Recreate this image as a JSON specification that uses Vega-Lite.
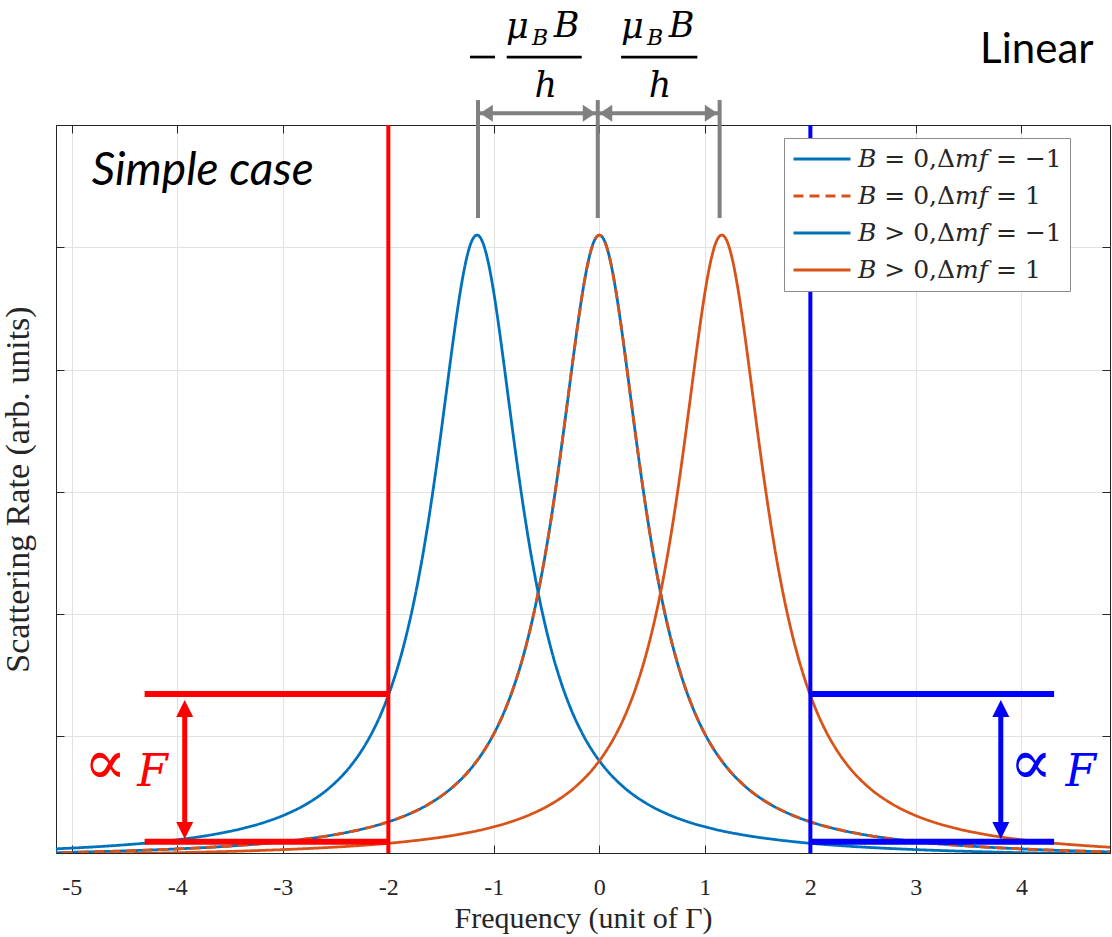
{
  "$schema": "https://vega.github.io/schema/vega-lite/v6.json",
  "width": 1054,
  "height": 728,
  "autosize": {"type": "none"},
  "padding": {"left": 56, "top": 125, "right": 2, "bottom": 84},
  "background": "white",
  "config": {
    "view": {"stroke": "#262626", "strokeWidth": 1},
    "axis": {"domainColor": "#262626", "tickColor": "#262626", "gridColor": "#e2e2e2", "domainWidth": 1, "tickWidth": 1, "gridWidth": 1}
  },
  "resolve": {"axis": {"x": "independent", "y": "independent"}},
  "datasets": {
    "curves": [
      {"s":"a","x":-6,"y":0.0352},{"s":"a","x":-5.5,"y":0.0418},{"s":"a","x":-5,"y":0.0505},{"s":"a","x":-4.5,"y":0.0622},{"s":"a","x":-4,"y":0.0785},{"s":"a","x":-3.5,"y":0.102},{"s":"a","x":-3,"y":0.1378},{"s":"a","x":-2.5,"y":0.1962},{"s":"a","x":-2.25,"y":0.24},{"s":"a","x":-2,"y":0.3},{"s":"a","x":-1.8,"y":0.3653},{"s":"a","x":-1.6,"y":0.4537},{"s":"a","x":-1.4,"y":0.5769},{"s":"a","x":-1.2,"y":0.7544},{"s":"a","x":-1.1,"y":0.8733},{"s":"a","x":-1,"y":1.02},{"s":"a","x":-0.9,"y":1.2028},{"s":"a","x":-0.8,"y":1.4326},{"s":"a","x":-0.7,"y":1.723},{"s":"a","x":-0.6,"y":2.0902},{"s":"a","x":-0.5,"y":2.55},{"s":"a","x":-0.45,"y":2.8177},{"s":"a","x":-0.4,"y":3.1098},{"s":"a","x":-0.35,"y":3.4228},{"s":"a","x":-0.3,"y":3.75},{"s":"a","x":-0.25,"y":4.08},{"s":"a","x":-0.2,"y":4.3966},{"s":"a","x":-0.15,"y":4.6789},{"s":"a","x":-0.1,"y":4.9038},{"s":"a","x":-0.05,"y":5.0495},{"s":"a","x":0,"y":5.1},{"s":"a","x":0.05,"y":5.0495},{"s":"a","x":0.1,"y":4.9038},{"s":"a","x":0.15,"y":4.6789},{"s":"a","x":0.2,"y":4.3966},{"s":"a","x":0.25,"y":4.08},{"s":"a","x":0.3,"y":3.75},{"s":"a","x":0.35,"y":3.4228},{"s":"a","x":0.4,"y":3.1098},{"s":"a","x":0.45,"y":2.8177},{"s":"a","x":0.5,"y":2.55},{"s":"a","x":0.6,"y":2.0902},{"s":"a","x":0.7,"y":1.723},{"s":"a","x":0.8,"y":1.4326},{"s":"a","x":0.9,"y":1.2028},{"s":"a","x":1,"y":1.02},{"s":"a","x":1.1,"y":0.8733},{"s":"a","x":1.2,"y":0.7544},{"s":"a","x":1.4,"y":0.5769},{"s":"a","x":1.6,"y":0.4537},{"s":"a","x":1.8,"y":0.3653},{"s":"a","x":2,"y":0.3},{"s":"a","x":2.25,"y":0.24},{"s":"a","x":2.5,"y":0.1962},{"s":"a","x":3,"y":0.1378},{"s":"a","x":3.5,"y":0.102},{"s":"a","x":4,"y":0.0785},{"s":"a","x":4.5,"y":0.0622},{"s":"a","x":5,"y":0.0505},
      {"s":"c","x":-5.66,"y":0.0622},{"s":"c","x":-5.16,"y":0.0785},{"s":"c","x":-4.66,"y":0.102},{"s":"c","x":-4.16,"y":0.1378},{"s":"c","x":-3.66,"y":0.1962},{"s":"c","x":-3.41,"y":0.24},{"s":"c","x":-3.16,"y":0.3},{"s":"c","x":-2.96,"y":0.3653},{"s":"c","x":-2.76,"y":0.4537},{"s":"c","x":-2.56,"y":0.5769},{"s":"c","x":-2.36,"y":0.7544},{"s":"c","x":-2.26,"y":0.8733},{"s":"c","x":-2.16,"y":1.02},{"s":"c","x":-2.06,"y":1.2028},{"s":"c","x":-1.96,"y":1.4326},{"s":"c","x":-1.86,"y":1.723},{"s":"c","x":-1.76,"y":2.0902},{"s":"c","x":-1.66,"y":2.55},{"s":"c","x":-1.61,"y":2.8177},{"s":"c","x":-1.56,"y":3.1098},{"s":"c","x":-1.51,"y":3.4228},{"s":"c","x":-1.46,"y":3.75},{"s":"c","x":-1.41,"y":4.08},{"s":"c","x":-1.36,"y":4.3966},{"s":"c","x":-1.31,"y":4.6789},{"s":"c","x":-1.26,"y":4.9038},{"s":"c","x":-1.21,"y":5.0495},{"s":"c","x":-1.16,"y":5.1},{"s":"c","x":-1.11,"y":5.0495},{"s":"c","x":-1.06,"y":4.9038},{"s":"c","x":-1.01,"y":4.6789},{"s":"c","x":-0.96,"y":4.3966},{"s":"c","x":-0.91,"y":4.08},{"s":"c","x":-0.86,"y":3.75},{"s":"c","x":-0.81,"y":3.4228},{"s":"c","x":-0.76,"y":3.1098},{"s":"c","x":-0.71,"y":2.8177},{"s":"c","x":-0.66,"y":2.55},{"s":"c","x":-0.56,"y":2.0902},{"s":"c","x":-0.46,"y":1.723},{"s":"c","x":-0.36,"y":1.4326},{"s":"c","x":-0.26,"y":1.2028},{"s":"c","x":-0.16,"y":1.02},{"s":"c","x":-0.06,"y":0.8733},{"s":"c","x":0.04,"y":0.7544},{"s":"c","x":0.24,"y":0.5769},{"s":"c","x":0.44,"y":0.4537},{"s":"c","x":0.64,"y":0.3653},{"s":"c","x":0.84,"y":0.3},{"s":"c","x":1.09,"y":0.24},{"s":"c","x":1.34,"y":0.1962},{"s":"c","x":1.84,"y":0.1378},{"s":"c","x":2.34,"y":0.102},{"s":"c","x":2.84,"y":0.0785},{"s":"c","x":3.34,"y":0.0622},{"s":"c","x":3.84,"y":0.0505},{"s":"c","x":4.34,"y":0.0418},{"s":"c","x":4.84,"y":0.0352},{"s":"c","x":5.34,"y":0.03},
      {"s":"d","x":-5.34,"y":0.03},{"s":"d","x":-4.84,"y":0.0352},{"s":"d","x":-4.34,"y":0.0418},{"s":"d","x":-3.84,"y":0.0505},{"s":"d","x":-3.34,"y":0.0622},{"s":"d","x":-2.84,"y":0.0785},{"s":"d","x":-2.34,"y":0.102},{"s":"d","x":-1.84,"y":0.1378},{"s":"d","x":-1.34,"y":0.1962},{"s":"d","x":-1.09,"y":0.24},{"s":"d","x":-0.84,"y":0.3},{"s":"d","x":-0.64,"y":0.3653},{"s":"d","x":-0.44,"y":0.4537},{"s":"d","x":-0.24,"y":0.5769},{"s":"d","x":-0.04,"y":0.7544},{"s":"d","x":0.06,"y":0.8733},{"s":"d","x":0.16,"y":1.02},{"s":"d","x":0.26,"y":1.2028},{"s":"d","x":0.36,"y":1.4326},{"s":"d","x":0.46,"y":1.723},{"s":"d","x":0.56,"y":2.0902},{"s":"d","x":0.66,"y":2.55},{"s":"d","x":0.71,"y":2.8177},{"s":"d","x":0.76,"y":3.1098},{"s":"d","x":0.81,"y":3.4228},{"s":"d","x":0.86,"y":3.75},{"s":"d","x":0.91,"y":4.08},{"s":"d","x":0.96,"y":4.3966},{"s":"d","x":1.01,"y":4.6789},{"s":"d","x":1.06,"y":4.9038},{"s":"d","x":1.11,"y":5.0495},{"s":"d","x":1.16,"y":5.1},{"s":"d","x":1.21,"y":5.0495},{"s":"d","x":1.26,"y":4.9038},{"s":"d","x":1.31,"y":4.6789},{"s":"d","x":1.36,"y":4.3966},{"s":"d","x":1.41,"y":4.08},{"s":"d","x":1.46,"y":3.75},{"s":"d","x":1.51,"y":3.4228},{"s":"d","x":1.56,"y":3.1098},{"s":"d","x":1.61,"y":2.8177},{"s":"d","x":1.66,"y":2.55},{"s":"d","x":1.76,"y":2.0902},{"s":"d","x":1.86,"y":1.723},{"s":"d","x":1.96,"y":1.4326},{"s":"d","x":2.06,"y":1.2028},{"s":"d","x":2.16,"y":1.02},{"s":"d","x":2.26,"y":0.8733},{"s":"d","x":2.36,"y":0.7544},{"s":"d","x":2.56,"y":0.5769},{"s":"d","x":2.76,"y":0.4537},{"s":"d","x":2.96,"y":0.3653},{"s":"d","x":3.16,"y":0.3},{"s":"d","x":3.41,"y":0.24},{"s":"d","x":3.66,"y":0.1962},{"s":"d","x":4.16,"y":0.1378},{"s":"d","x":4.66,"y":0.102},{"s":"d","x":5.16,"y":0.0785},
      {"s":"b","x":-6,"y":0.0352},{"s":"b","x":-5.5,"y":0.0418},{"s":"b","x":-5,"y":0.0505},{"s":"b","x":-4.5,"y":0.0622},{"s":"b","x":-4,"y":0.0785},{"s":"b","x":-3.5,"y":0.102},{"s":"b","x":-3,"y":0.1378},{"s":"b","x":-2.5,"y":0.1962},{"s":"b","x":-2.25,"y":0.24},{"s":"b","x":-2,"y":0.3},{"s":"b","x":-1.8,"y":0.3653},{"s":"b","x":-1.6,"y":0.4537},{"s":"b","x":-1.4,"y":0.5769},{"s":"b","x":-1.2,"y":0.7544},{"s":"b","x":-1.1,"y":0.8733},{"s":"b","x":-1,"y":1.02},{"s":"b","x":-0.9,"y":1.2028},{"s":"b","x":-0.8,"y":1.4326},{"s":"b","x":-0.7,"y":1.723},{"s":"b","x":-0.6,"y":2.0902},{"s":"b","x":-0.5,"y":2.55},{"s":"b","x":-0.45,"y":2.8177},{"s":"b","x":-0.4,"y":3.1098},{"s":"b","x":-0.35,"y":3.4228},{"s":"b","x":-0.3,"y":3.75},{"s":"b","x":-0.25,"y":4.08},{"s":"b","x":-0.2,"y":4.3966},{"s":"b","x":-0.15,"y":4.6789},{"s":"b","x":-0.1,"y":4.9038},{"s":"b","x":-0.05,"y":5.0495},{"s":"b","x":0,"y":5.1},{"s":"b","x":0.05,"y":5.0495},{"s":"b","x":0.1,"y":4.9038},{"s":"b","x":0.15,"y":4.6789},{"s":"b","x":0.2,"y":4.3966},{"s":"b","x":0.25,"y":4.08},{"s":"b","x":0.3,"y":3.75},{"s":"b","x":0.35,"y":3.4228},{"s":"b","x":0.4,"y":3.1098},{"s":"b","x":0.45,"y":2.8177},{"s":"b","x":0.5,"y":2.55},{"s":"b","x":0.6,"y":2.0902},{"s":"b","x":0.7,"y":1.723},{"s":"b","x":0.8,"y":1.4326},{"s":"b","x":0.9,"y":1.2028},{"s":"b","x":1,"y":1.02},{"s":"b","x":1.1,"y":0.8733},{"s":"b","x":1.2,"y":0.7544},{"s":"b","x":1.4,"y":0.5769},{"s":"b","x":1.6,"y":0.4537},{"s":"b","x":1.8,"y":0.3653},{"s":"b","x":2,"y":0.3},{"s":"b","x":2.25,"y":0.24},{"s":"b","x":2.5,"y":0.1962},{"s":"b","x":3,"y":0.1378},{"s":"b","x":3.5,"y":0.102},{"s":"b","x":4,"y":0.0785},{"s":"b","x":4.5,"y":0.0622},{"s":"b","x":5,"y":0.0505}
    ]
  },
  "layer": [
    {
      "data": {"name": "curves"},
      "transform": [{"filter": "datum.s != 'b'"}],
      "mark": {"type": "line", "strokeWidth": 2.8, "clip": true, "interpolate": "monotone"},
      "encoding": {
        "x": {"field": "x", "type": "quantitative", "scale": {"domain": [-5.15, 4.84], "nice": false, "zero": false},
          "axis": {"orient": "bottom", "values": [-5,-4,-3,-2,-1,0,1,2,3,4], "grid": true, "tickSize": -8, "labelPadding": 30, "labelFont": "Liberation Sans Narrow", "labelFontSize": 24, "labelColor": "#262626", "labelExpr": "'' + datum.value", "labelFlush": false, "title": "Frequency (unit of Γ)", "titleFont": "Liberation Serif", "titleFontSize": 30, "titleFontWeight": "normal", "titleColor": "#262626", "titlePadding": 4}},
        "y": {"field": "y", "type": "quantitative", "scale": {"domain": [0.045, 6.0], "nice": false, "zero": false},
          "axis": {"orient": "left", "values": [1,2,3,4,5,6], "grid": true, "labels": false, "tickSize": -8, "title": "Scattering Rate (arb. units)", "titleFont": "Liberation Serif", "titleFontSize": 34, "titleFontWeight": "normal", "titleColor": "#262626", "titlePadding": 20}},
        "color": {"field": "s", "type": "nominal", "scale": {"domain": ["a","b","c","d"], "range": ["#0072BD","#D95319","#0072BD","#D95319"]},
          "legend": {"orient": "none", "legendX": 728, "legendY": 13, "title": null, "direction": "vertical", "symbolType": "stroke", "symbolSize": 3249, "symbolStrokeWidth": 3, "clipHeight": 26, "rowPadding": 11, "padding": 8, "labelFont": "DejaVu Serif", "labelFontSize": 25, "labelColor": "#262626", "labelOffset": 6, "labelLimit": 400, "strokeColor": "#8c8c8c", "fillColor": "white",
            "labelExpr": "datum.label == 'a' ? '𝐵 = 0,Δ𝑚𝑓 = −1' : datum.label == 'b' ? '𝐵 = 0,Δ𝑚𝑓 = 1' : datum.label == 'c' ? '𝐵 > 0,Δ𝑚𝑓 = −1' : '𝐵 > 0,Δ𝑚𝑓 = 1'"}},
        "strokeDash": {"field": "s", "type": "nominal", "scale": {"domain": ["a","b","c","d"], "range": [[1,0],[10,6],[1,0],[1,0]]},
          "legend": {"orient": "none", "legendX": 728, "legendY": 13, "title": null, "direction": "vertical", "symbolType": "stroke", "symbolSize": 3249, "symbolStrokeWidth": 3, "clipHeight": 26, "rowPadding": 11, "padding": 8, "labelFont": "DejaVu Serif", "labelFontSize": 25, "labelColor": "#262626", "labelOffset": 6, "labelLimit": 400, "strokeColor": "#8c8c8c", "fillColor": "white",
            "labelExpr": "datum.label == 'a' ? '𝐵 = 0,Δ𝑚𝑓 = −1' : datum.label == 'b' ? '𝐵 = 0,Δ𝑚𝑓 = 1' : datum.label == 'c' ? '𝐵 > 0,Δ𝑚𝑓 = −1' : '𝐵 > 0,Δ𝑚𝑓 = 1'"}}
      }
    },
    {
      "data": {"name": "curves"},
      "transform": [{"filter": "datum.s == 'b'"}],
      "mark": {"type": "line", "strokeWidth": 2.8, "clip": true, "interpolate": "monotone"},
      "encoding": {
        "x": {"field": "x", "type": "quantitative", "axis": null},
        "y": {"field": "y", "type": "quantitative", "axis": null},
        "color": {"field": "s", "type": "nominal"},
        "strokeDash": {"field": "s", "type": "nominal"}
      }
    },
    {
      "data": {"values": [{"x": -2}]},
      "mark": {"type": "rule", "color": "#ff0000", "strokeWidth": 4},
      "encoding": {"x": {"field": "x", "type": "quantitative", "axis": null}}
    },
    {
      "data": {"values": [{"x": 2}]},
      "mark": {"type": "rule", "color": "#0000ff", "strokeWidth": 4},
      "encoding": {"x": {"field": "x", "type": "quantitative", "axis": null}}
    },
    {
      "data": {"values": [{"x": -4.31, "x2": -2.0, "y": 1.346}, {"x": -4.31, "x2": -2.0, "y": 0.137}]},
      "mark": {"type": "rule", "color": "#ff0000", "strokeWidth": 6},
      "encoding": {
        "x": {"field": "x", "type": "quantitative", "axis": {"orient": "top", "values": [-5,-4,-3,-2,-1,0,1,2,3,4], "labels": false, "title": null, "grid": false, "tickSize": -8}},
        "x2": {"field": "x2"},
        "y": {"field": "y", "type": "quantitative", "axis": {"orient": "right", "values": [1,2,3,4,5,6], "labels": false, "title": null, "grid": false, "tickSize": -8}}
      }
    },
    {
      "data": {"values": [{"x": 2.0, "x2": 4.31, "y": 1.346}, {"x": 2.0, "x2": 4.31, "y": 0.137}]},
      "mark": {"type": "rule", "color": "#0000ff", "strokeWidth": 6},
      "encoding": {
        "x": {"field": "x", "type": "quantitative", "axis": null},
        "x2": {"field": "x2"},
        "y": {"field": "y", "type": "quantitative", "axis": null}
      }
    },
    {
      "data": {"values": [{"x": -3.93, "y": 1.227, "y2": 0.229}]},
      "mark": {"type": "rule", "color": "#ff0000", "strokeWidth": 5},
      "encoding": {
        "x": {"field": "x", "type": "quantitative", "axis": null},
        "y": {"field": "y", "type": "quantitative", "axis": null},
        "y2": {"field": "y2"}
      }
    },
    {
      "data": {"values": [{"x": 3.805, "y": 1.227, "y2": 0.229}]},
      "mark": {"type": "rule", "color": "#0000ff", "strokeWidth": 5},
      "encoding": {
        "x": {"field": "x", "type": "quantitative", "axis": null},
        "y": {"field": "y", "type": "quantitative", "axis": null},
        "y2": {"field": "y2"}
      }
    },
    {
      "data": {"values": [{"x": -3.93, "y": 1.227, "end": "top"}, {"x": -3.93, "y": 0.229, "end": "bottom"}]},
      "mark": {"type": "point", "filled": true, "size": 289, "color": "#ff0000", "opacity": 1, "strokeWidth": 0},
      "encoding": {
        "x": {"field": "x", "type": "quantitative", "axis": null},
        "y": {"field": "y", "type": "quantitative", "axis": null},
        "shape": {"field": "end", "type": "nominal", "scale": {"domain": ["top","bottom","left","right"], "range": ["M0,-1L1,1L-1,1Z","M0,1L1,-1L-1,-1Z","M-1,0L0.5,-1L0.5,1Z","M1,0L-0.5,-1L-0.5,1Z"]}, "legend": null}
      }
    },
    {
      "data": {"values": [{"x": 3.805, "y": 1.227, "end": "top"}, {"x": 3.805, "y": 0.229, "end": "bottom"}]},
      "mark": {"type": "point", "filled": true, "size": 289, "color": "#0000ff", "opacity": 1, "strokeWidth": 0},
      "encoding": {
        "x": {"field": "x", "type": "quantitative", "axis": null},
        "y": {"field": "y", "type": "quantitative", "axis": null},
        "shape": {"field": "end", "type": "nominal", "legend": null}
      }
    },
    {
      "data": {"values": [{"x": -1.15, "y": 6.204, "y2": 5.239}, {"x": -0.015, "y": 6.204, "y2": 5.239}, {"x": 1.14, "y": 6.204, "y2": 5.239}]},
      "mark": {"type": "rule", "color": "#808080", "strokeWidth": 4},
      "encoding": {
        "x": {"field": "x", "type": "quantitative", "axis": null},
        "y": {"field": "y", "type": "quantitative", "axis": null},
        "y2": {"field": "y2"}
      }
    },
    {
      "data": {"values": [{"x": -1.15, "x2": -0.015, "y": 6.096}, {"x": -0.015, "x2": 1.14, "y": 6.096}]},
      "mark": {"type": "rule", "color": "#808080", "strokeWidth": 4},
      "encoding": {
        "x": {"field": "x", "type": "quantitative", "axis": null},
        "x2": {"field": "x2"},
        "y": {"field": "y", "type": "quantitative", "axis": null}
      }
    },
    {
      "data": {"values": [{"x": -1.05, "y": 6.096, "end": "left"}, {"x": -0.117, "y": 6.096, "end": "right"}, {"x": 0.082, "y": 6.096, "end": "left"}, {"x": 1.04, "y": 6.096, "end": "right"}]},
      "mark": {"type": "point", "filled": true, "size": 289, "color": "#808080", "opacity": 1, "strokeWidth": 0},
      "encoding": {
        "x": {"field": "x", "type": "quantitative", "axis": null},
        "y": {"field": "y", "type": "quantitative", "axis": null},
        "shape": {"field": "end", "type": "nominal", "legend": null}
      }
    },
    {
      "data": {"values": [{"x": -1.226, "x2": -0.989, "y": 6.556}, {"x": -0.878, "x2": -0.167, "y": 6.556}, {"x": 0.206, "x2": 0.929, "y": 6.556}]},
      "mark": {"type": "rule", "color": "#000000", "strokeWidth": 2.7},
      "encoding": {
        "x": {"field": "x", "type": "quantitative", "axis": null},
        "x2": {"field": "x2"},
        "y": {"field": "y", "type": "quantitative", "axis": null}
      }
    },
    {
      "data": {"values": [{"t": "μ", "x": -0.776, "y": 6.709}, {"t": "B", "x": -0.311, "y": 6.717}, {"t": "h", "x": -0.507, "y": 6.231}, {"t": "μ", "x": 0.313, "y": 6.709}, {"t": "B", "x": 0.779, "y": 6.717}, {"t": "h", "x": 0.575, "y": 6.231}]},
      "mark": {"type": "text", "font": "DejaVu Serif", "fontStyle": "italic", "fontSize": 35, "color": "#000000", "align": "center", "baseline": "alphabetic"},
      "encoding": {
        "x": {"field": "x", "type": "quantitative", "axis": null},
        "y": {"field": "y", "type": "quantitative", "axis": null},
        "text": {"field": "t"}
      }
    },
    {
      "data": {"values": [{"t": "B", "x": -0.562, "y": 6.654}, {"t": "B", "x": 0.528, "y": 6.654}]},
      "mark": {"type": "text", "font": "DejaVu Serif", "fontStyle": "italic", "fontSize": 22, "color": "#000000", "align": "center", "baseline": "alphabetic"},
      "encoding": {
        "x": {"field": "x", "type": "quantitative", "axis": null},
        "y": {"field": "y", "type": "quantitative", "axis": null},
        "text": {"field": "t"}
      }
    },
    {
      "data": {"values": [{"t": "Simple case", "x": -4.81, "y": 5.509}]},
      "mark": {"type": "text", "font": "Lato", "fontStyle": "italic", "fontSize": 46, "color": "#000000", "align": "left", "baseline": "alphabetic"},
      "encoding": {
        "x": {"field": "x", "type": "quantitative", "axis": null},
        "y": {"field": "y", "type": "quantitative", "axis": null},
        "text": {"field": "t"}
      }
    },
    {
      "data": {"values": [{"t": "Linear", "x": 3.609, "y": 6.507}]},
      "mark": {"type": "text", "font": "Lato", "fontSize": 42, "color": "#000000", "align": "left", "baseline": "alphabetic"},
      "encoding": {
        "x": {"field": "x", "type": "quantitative", "axis": null},
        "y": {"field": "y", "type": "quantitative", "axis": null},
        "text": {"field": "t"}
      }
    },
    {
      "data": {"values": [{"t": "∝", "x": -4.685, "y": 0.61}]},
      "mark": {"type": "text", "font": "DejaVu Serif", "fontSize": 64, "color": "#ff0000", "align": "center", "baseline": "alphabetic"},
      "encoding": {
        "x": {"field": "x", "type": "quantitative", "axis": null},
        "y": {"field": "y", "type": "quantitative", "axis": null},
        "text": {"field": "t"}
      }
    },
    {
      "data": {"values": [{"t": "F", "x": -4.235, "y": 0.597}]},
      "mark": {"type": "text", "font": "DejaVu Serif", "fontStyle": "italic", "fontSize": 44, "color": "#ff0000", "align": "center", "baseline": "alphabetic"},
      "encoding": {
        "x": {"field": "x", "type": "quantitative", "axis": null},
        "y": {"field": "y", "type": "quantitative", "axis": null},
        "text": {"field": "t"}
      }
    },
    {
      "data": {"values": [{"t": "∝", "x": 4.09, "y": 0.61}]},
      "mark": {"type": "text", "font": "DejaVu Serif", "fontSize": 64, "color": "#0000ff", "align": "center", "baseline": "alphabetic"},
      "encoding": {
        "x": {"field": "x", "type": "quantitative", "axis": null},
        "y": {"field": "y", "type": "quantitative", "axis": null},
        "text": {"field": "t"}
      }
    },
    {
      "data": {"values": [{"t": "F", "x": 4.564, "y": 0.597}]},
      "mark": {"type": "text", "font": "DejaVu Serif", "fontStyle": "italic", "fontSize": 44, "color": "#0000ff", "align": "center", "baseline": "alphabetic"},
      "encoding": {
        "x": {"field": "x", "type": "quantitative", "axis": null},
        "y": {"field": "y", "type": "quantitative", "axis": null},
        "text": {"field": "t"}
      }
    }
  ]
}
